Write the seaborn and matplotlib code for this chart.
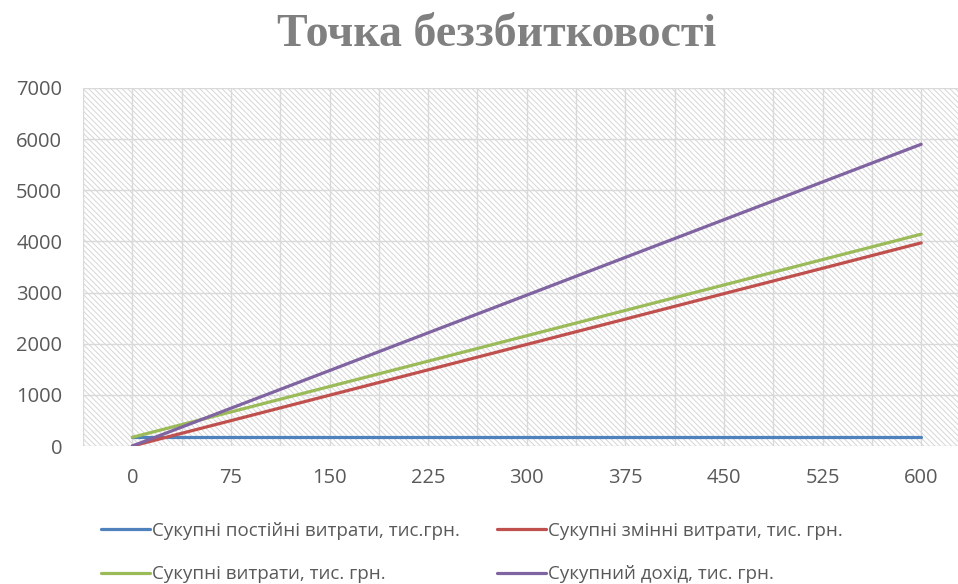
import numpy as np
import pandas as pd
import matplotlib
matplotlib.use("Agg")
import matplotlib.pyplot as plt
from matplotlib.patches import Rectangle
import seaborn as sns

# =======================
# DADOS
# =======================
obsyag = [0, 75, 150, 225, 300, 375, 450, 525, 600]
postiyni = [170, 170, 170, 170, 170, 170, 170, 170, 170]
zminni = [0, 496, 993, 1489, 1986, 2482, 2979, 3475, 3972]
vytraty = [170, 666, 1163, 1659, 2156, 2652, 3149, 3645, 4142]
dohid = [0, 738, 1475, 2213, 2950, 3688, 4425, 5163, 5900]

nazvy = [
    "Сукупні постійні витрати, тис.грн.",
    "Сукупні змінні витрати, тис. грн.",
    "Сукупні витрати, тис. грн.",
    "Сукупний дохід, тис. грн.",
]
kolory = ["#4F81BD", "#C0504D", "#9BBB59", "#8064A2"]

df = pd.DataFrame({
    "x": obsyag * 4,
    "y": postiyni + zminni + vytraty + dohid,
    "serie": sum([[n] * len(obsyag) for n in nazvy], []),
})

# =======================
# ESTILO
# =======================
sns.set_theme(style="white")
plt.rcParams["font.family"] = ["Open Sans", "DejaVu Sans"]
plt.rcParams["hatch.linewidth"] = 0.7

fig = plt.figure(figsize=(9.58, 5.84), dpi=100)
ax = fig.add_axes([83 / 958, 138 / 584, 875 / 958, 358 / 584])

# fundo tracejado
ax.add_patch(Rectangle((0, 0), 1, 1, transform=ax.transAxes, facecolor="white",
                       edgecolor="#D6D6D6", hatch="\\" * 6, linewidth=0, zorder=0))

sns.lineplot(data=df, x="x", y="y", hue="serie", palette=kolory, linewidth=2.3,
             ax=ax, legend=False, zorder=3)

ax.set_xlim(-37.5, 628)
ax.set_ylim(0, 7000)
ax.set_xticks(obsyag)
ax.set_yticks(range(0, 7001, 1000))
ax.set_xticks(np.arange(-37.5, 630, 37.5), minor=True)
ax.grid(True, which="both", color="#D9D9D9", linewidth=1, zorder=1)
ax.set_axisbelow(True)
for s in ax.spines.values():
    s.set_visible(False)
ax.tick_params(axis="both", which="both", length=0, labelsize=14.5, colors="#595959")
ax.tick_params(axis="x", pad=16)
ax.tick_params(axis="y", pad=15)
ax.set_xlabel("")
ax.set_ylabel("")

fig.text(497 / 958, 1 - 35 / 584, "Точка беззбитковості", ha="center", va="center",
         fontsize=33, fontweight="bold", color="#808080",
         family=["Liberation Serif", "DejaVu Serif"])

# legenda preenchida por linhas (matplotlib preenche por colunas)
handles = [plt.Line2D([], [], color=c, linewidth=2.3) for c in kolory]
orden = [0, 2, 1, 3]
fig.legend([handles[i] for i in orden], [nazvy[i] for i in orden],
           loc="upper left", bbox_to_anchor=(84 / 958, 1 - 505 / 584),
           ncol=2, frameon=False, fontsize=13.5, labelcolor="#595959",
           handlelength=2.6, handletextpad=0.1, columnspacing=2.0, labelspacing=1.35)

fig.savefig("out.png", dpi=100)
